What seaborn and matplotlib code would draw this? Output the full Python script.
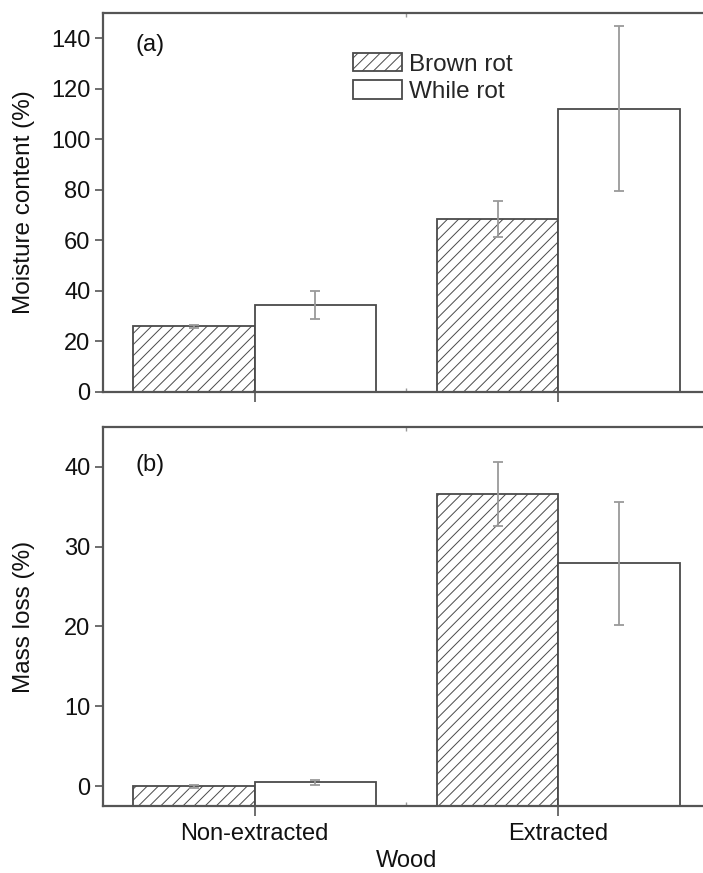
import numpy as np
import pandas as pd
import matplotlib
matplotlib.use("Agg")
import matplotlib.pyplot as plt
from matplotlib.patches import Patch
from matplotlib.container import BarContainer
import seaborn as sns

# ---------------- data ----------------
categories = ["Non-extracted", "Extracted"]
rot_types = ["Brown rot", "While rot"]

moisture_brown = [26.0, 68.4]
moisture_brown_err = [0.7, 7.2]
moisture_white = [34.3, 112.2]
moisture_white_err = [5.5, 32.8]

mass_brown = [-0.05, 36.6]
mass_brown_err = [0.15, 4.0]
mass_white = [0.45, 27.9]
mass_white_err = [0.35, 7.7]

moisture_ticks = [0, 20, 40, 60, 80, 100, 120, 140]
mass_ticks = [0, 10, 20, 30, 40]

# ---------------- style ----------------
sns.set_theme(style="white")
plt.rcParams["font.family"] = ["Liberation Sans", "DejaVu Sans"]
plt.rcParams["hatch.linewidth"] = 0.7
FS = 17
EDGE = "#4a4a4a"
SPINE = "#555555"
ERR = "#9a9a9a"
HATCH = "///"


def make_df(brown, brown_err, white, white_err):
    rows = []
    for c, v, e in zip(categories, brown, brown_err):
        rows.append({"Wood": c, "Rot": rot_types[0], "value": v, "err": e})
    for c, v, e in zip(categories, white, white_err):
        rows.append({"Wood": c, "Rot": rot_types[1], "value": v, "err": e})
    return pd.DataFrame(rows)


df_moist = make_df(moisture_brown, moisture_brown_err, moisture_white, moisture_white_err)
df_mass = make_df(mass_brown, mass_brown_err, mass_white, mass_white_err)

W, H = 703, 873
fig = plt.figure(figsize=(W / 100, H / 100), dpi=100)
left = 103 / W
width = (710 - 103) / W
ax1 = fig.add_axes([left, 1 - 392 / H, width, (392 - 13) / H])
ax2 = fig.add_axes([left, 1 - 806 / H, width, (806 - 427) / H])


def draw(ax, df, ylim, yticks, ylabel, tag, tag_y, bars_from_bottom=False):
    sns.barplot(data=df, x="Wood", y="value", hue="Rot", order=categories,
                hue_order=rot_types, palette={rot_types[0]: "white", rot_types[1]: "white"},
                edgecolor=EDGE, linewidth=1.3, errorbar=None, width=0.8,
                legend=False, ax=ax, zorder=2)
    ax.set_ylim(*ylim)
    bar_conts = [c for c in ax.containers if isinstance(c, BarContainer)]
    for hi, cont in enumerate(bar_conts):
        sub = df[df["Rot"] == rot_types[hi]].set_index("Wood").loc[categories]
        for ci, p in enumerate(cont.patches):
            if hi == 0:
                p.set_hatch(HATCH)
            if bars_from_bottom:
                p.set_y(ylim[0])
                p.set_height(sub["value"].iloc[ci] - ylim[0])
            xc = p.get_x() + p.get_width() / 2
            ax.errorbar(xc, sub["value"].iloc[ci], yerr=sub["err"].iloc[ci],
                        color=ERR, elinewidth=1.3, capsize=3.5, capthick=1.3,
                        fmt="none", zorder=3)
    ax.set_xlim(-0.5, 1.5)
    ax.set_yticks(yticks)
    ax.set_ylabel(ylabel, fontsize=FS + 0.5, color="#111111")
    ax.yaxis.set_label_coords(-0.112, 0.5)
    ax.tick_params(axis="y", direction="out", length=6, width=1.2, color=SPINE,
                   labelsize=FS, labelcolor="#111111", left=True, pad=3)
    ax.tick_params(axis="x", which="major", direction="out", length=7, width=1.2,
                   color=SPINE, labelsize=FS, labelcolor="#111111", bottom=True, pad=5)
    ax.set_xticks([0.5], minor=True)
    ax.tick_params(axis="x", which="minor", direction="in", length=3, width=1.0,
                   color="#999999", bottom=True, top=True)
    for s in ax.spines.values():
        s.set_color(SPINE)
        s.set_linewidth(1.6)
    ax.text(0.053, tag_y, tag, transform=ax.transAxes, fontsize=FS,
            va="center", ha="left", color="#111111")


draw(ax1, df_moist, (0, 150), moisture_ticks, "Moisture content (%)", "(a)", 0.915)
draw(ax2, df_mass, (-2.5, 45), mass_ticks, "Mass loss (%)", "(b)", 0.90,
     bars_from_bottom=True)

ax1.set_xlabel("")
ax1.set_xticklabels([])
ax2.set_xlabel("Wood", fontsize=FS, color="#111111", labelpad=4)

handles = [Patch(facecolor="white", edgecolor=EDGE, hatch=HATCH, linewidth=1.3,
                 label=rot_types[0]),
           Patch(facecolor="white", edgecolor=EDGE, linewidth=1.3, label=rot_types[1])]
ax1.legend(handles=handles, loc="upper left", bbox_to_anchor=(0.412, 0.895),
           frameon=False, fontsize=FS + 0.5, borderpad=0, borderaxespad=0,
           handlelength=2.0, handleheight=0.8, handletextpad=0.3,
           labelspacing=0.2)

fig.savefig("out.png", dpi=100)
